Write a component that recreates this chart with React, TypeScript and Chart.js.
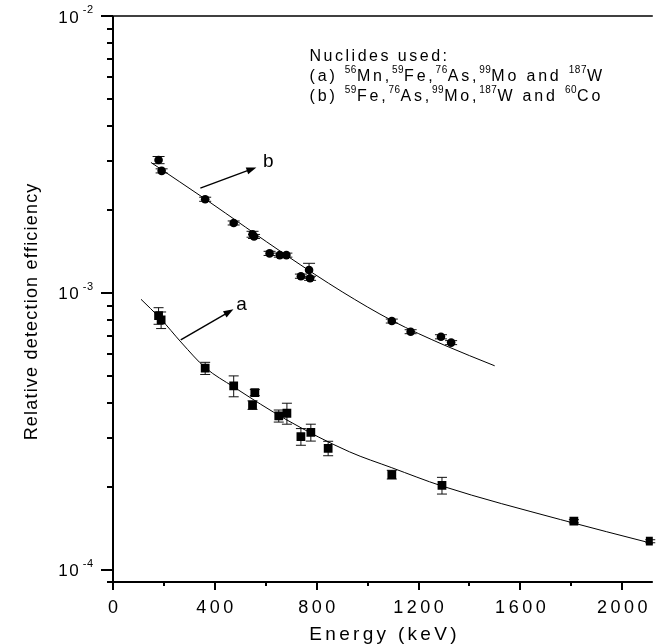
import React, { useEffect, useRef } from "react";
import { Chart, registerables } from "chart.js";
Chart.register(...registerables);

// ---- data ----
const energyA = [179, 189, 362, 474, 548, 557, 651, 683, 738, 777, 845, 1095, 1292, 1810, 2110];
const effA = [8.28e-4, 7.99e-4, 5.35e-4, 4.62e-4, 3.94e-4, 4.37e-4, 3.6e-4, 3.68e-4, 3.03e-4, 3.14e-4, 2.75e-4, 2.21e-4, 2.02e-4, 1.5e-4, 1.27e-4];
const errA = [0.57e-4, 0.55e-4, 0.27e-4, 0.4e-4, 0.14e-4, 0.11e-4, 0.18e-4, 0.32e-4, 0.21e-4, 0.22e-4, 0.165e-4, 0.08e-4, 0.14e-4, 0.02e-4, 0.016e-4];

const energyB = [179, 191, 362, 474, 548, 554, 615, 655, 681, 738, 770, 774, 1095, 1169, 1288, 1328];
const effB = [3.02e-3, 2.76e-3, 2.18e-3, 1.79e-3, 1.63e-3, 1.6e-3, 1.39e-3, 1.37e-3, 1.37e-3, 1.15e-3, 1.21e-3, 1.13e-3, 7.92e-4, 7.25e-4, 6.95e-4, 6.62e-4];
const errB = [0.09e-3, 0.047e-3, 0.037e-3, 0.03e-3, 0.04e-3, 0.027e-3, 0.024e-3, 0.023e-3, 0.023e-3, 0.02e-3, 0.07e-3, 0.019e-3, 0.013e-3, 0.012e-3, 0.012e-3, 0.011e-3];

const fitAx = [110, 185, 270, 362, 474, 683, 929, 1095, 1292, 1758, 2120];
const fitAy = [9.49e-4, 8.11e-4, 6.6e-4, 5.38e-4, 4.58e-4, 3.48e-4, 2.67e-4, 2.34e-4, 2.01e-4, 1.52e-4, 1.245e-4];

const fitBx = [149, 260, 365, 520, 684, 900, 1098, 1300, 1499];
const fitBy = [2.96e-3, 2.527e-3, 2.175e-3, 1.73e-3, 1.361e-3, 1.01e-3, 7.93e-4, 6.49e-4, 5.46e-4];

const xTicks = [0, 400, 800, 1200, 1600, 2000];
const yTickExps = [-4, -3, -2];

const X_MIN = 0;
const X_MAX = 2120;
const Y_MIN = 9.05e-5;
const Y_MAX = 1e-2;

const xTitle = "Energy (keV)";
const yTitle = "Relative detection efficiency";
const noteTitle = "Nuclides used:";
const noteA = [
  { t: "(a) " }, { t: "56", s: true }, { t: "Mn," }, { t: "59", s: true }, { t: "Fe," },
  { t: "76", s: true }, { t: "As," }, { t: "99", s: true }, { t: "Mo and " }, { t: "187", s: true }, { t: "W" },
];
const noteB = [
  { t: "(b) " }, { t: "59", s: true }, { t: "Fe," }, { t: "76", s: true }, { t: "As," },
  { t: "99", s: true }, { t: "Mo," }, { t: "187", s: true }, { t: "W and " }, { t: "60", s: true }, { t: "Co" },
];
// annotation anchors in data coordinates
const noteAnchor = { x: 772, y: 6.88e-3 };
const arrowA = { x1: 266, y1: 6.77e-4, x2: 473, y2: 8.73e-4, lx: 484, ly: 8.68e-4, label: "a" };
const arrowB = { x1: 343, y1: 2.39e-3, x2: 563, y2: 2.84e-3, lx: 589, ly: 2.86e-3, label: "b" };

const FONT = '"Liberation Sans", Arial, Helvetica, sans-serif';

function spacedWidth(ctx: any, text: string, font: string, sp: number) {
  ctx.font = font;
  let w = 0;
  for (const ch of text) w += ctx.measureText(ch).width + sp;
  return w - sp;
}
function drawSpaced(ctx: any, text: string, x: number, y: number, font: string, sp: number) {
  ctx.font = font;
  ctx.textAlign = "left";
  let cx = x;
  for (const ch of text) {
    ctx.fillText(ch, cx, y);
    cx += ctx.measureText(ch).width + sp;
  }
  return cx;
}

function drawArrow(ctx: any, x1: number, y1: number, x2: number, y2: number) {
  const ang = Math.atan2(y2 - y1, x2 - x1);
  const hl = 10, hw = 3.5;
  ctx.beginPath();
  ctx.moveTo(x1, y1);
  ctx.lineTo(x2 - Math.cos(ang) * hl * 0.8, y2 - Math.sin(ang) * hl * 0.8);
  ctx.lineWidth = 1.4;
  ctx.stroke();
  ctx.beginPath();
  ctx.moveTo(x2, y2);
  ctx.lineTo(x2 - Math.cos(ang) * hl + Math.sin(ang) * hw, y2 - Math.sin(ang) * hl - Math.cos(ang) * hw);
  ctx.lineTo(x2 - Math.cos(ang) * hl - Math.sin(ang) * hw, y2 - Math.sin(ang) * hl + Math.cos(ang) * hw);
  ctx.closePath();
  ctx.fill();
}

const originPlugin = {
  id: "originStyle",
  beforeDatasetsDraw(chart: any) {
    const ctx = chart.ctx;
    const xs = chart.scales.x, ys = chart.scales.y;
    ctx.save();
    ctx.strokeStyle = "#111";
    ctx.lineWidth = 1;
    const bars = (ex: number[], ey: number[], ee: number[], cap: number) => {
      for (let i = 0; i < ex.length; i++) {
        const px = xs.getPixelForValue(ex[i]);
        const pt = ys.getPixelForValue(ey[i] + ee[i]);
        const pb = ys.getPixelForValue(ey[i] - ee[i]);
        ctx.beginPath();
        ctx.moveTo(px, pt); ctx.lineTo(px, pb);
        ctx.moveTo(px - cap, pt); ctx.lineTo(px + cap, pt);
        ctx.moveTo(px - cap, pb); ctx.lineTo(px + cap, pb);
        ctx.stroke();
      }
    };
    bars(energyA, effA, errA, 5);
    bars(energyB, effB, errB, 6);
    ctx.restore();
  },
  afterDraw(chart: any) {
    const ctx = chart.ctx;
    const xs = chart.scales.x, ys = chart.scales.y;
    const { left, top, right, bottom } = chart.chartArea;
    ctx.save();
    ctx.strokeStyle = "#000";
    ctx.fillStyle = "#000";
    ctx.lineCap = "butt";
    // axes
    ctx.lineWidth = 2;
    ctx.beginPath();
    ctx.moveTo(left, top); ctx.lineTo(left, bottom + 1);
    ctx.moveTo(left - 6, bottom); ctx.lineTo(right, bottom);
    ctx.stroke();
    ctx.lineWidth = 1.5;
    ctx.beginPath();
    ctx.moveTo(left, top); ctx.lineTo(right, top);
    ctx.stroke();
    // y ticks
    ctx.lineWidth = 2;
    ctx.beginPath();
    for (let e = -5; e <= -2; e++) {
      for (let m = 1; m <= 9; m++) {
        const v = m * Math.pow(10, e);
        if (v < Y_MIN * 0.999 || v > Y_MAX * 1.001) continue;
        const py = Math.round(ys.getPixelForValue(v));
        const len = m === 1 ? 12 : 6;
        ctx.moveTo(left - len, py); ctx.lineTo(left, py);
      }
    }
    // x ticks
    for (let v = X_MIN; v <= X_MAX; v += 200) {
      const px = Math.round(xs.getPixelForValue(v));
      const len = v % 400 === 0 ? 8 : 4;
      ctx.moveTo(px, bottom); ctx.lineTo(px, bottom + len);
    }
    ctx.stroke();
    // y tick labels 10^n
    ctx.textBaseline = "alphabetic";
    const mainF = `17px ${FONT}`, supF = `11px ${FONT}`;
    for (const e of yTickExps) {
      const py = ys.getPixelForValue(Math.pow(10, e));
      const sup = String(e);
      const wm = spacedWidth(ctx, "10", mainF, 1.5);
      const ws = spacedWidth(ctx, sup, supF, 0.5);
      const gap = 4;
      const x0 = left - 20 - (wm + gap + ws);
      drawSpaced(ctx, "10", x0, py + 6.5, mainF, 1.5);
      drawSpaced(ctx, sup, x0 + wm + gap, py - 3, supF, 0.5);
    }
    // x tick labels
    const xf = `18px ${FONT}`;
    for (const v of xTicks) {
      const px = xs.getPixelForValue(v);
      const s = String(v);
      const w = spacedWidth(ctx, s, xf, 3.5);
      drawSpaced(ctx, s, px - w / 2, bottom + 31, xf, 3.5);
    }
    // x title
    const tf = `19px ${FONT}`;
    const tw = spacedWidth(ctx, xTitle, tf, 3.3);
    drawSpaced(ctx, xTitle, (left + right) / 2 - tw / 2, bottom + 58, tf, 3.3);
    // y title
    const yf = `18px ${FONT}`;
    const yw = spacedWidth(ctx, yTitle, yf, 1.2);
    ctx.save();
    ctx.translate(32, (top + bottom) / 2 + 13);
    ctx.rotate(-Math.PI / 2);
    ctx.textBaseline = "middle";
    drawSpaced(ctx, yTitle, -yw / 2, 0, yf, 1.2);
    ctx.restore();
    // arrows
    for (const a of [arrowA, arrowB]) {
      drawArrow(ctx, xs.getPixelForValue(a.x1), ys.getPixelForValue(a.y1), xs.getPixelForValue(a.x2), ys.getPixelForValue(a.y2));
      drawSpaced(ctx, a.label, xs.getPixelForValue(a.lx), ys.getPixelForValue(a.ly), `19px ${FONT}`, 0);
    }
    // annotation
    const nx = xs.getPixelForValue(noteAnchor.x);
    const ny = ys.getPixelForValue(noteAnchor.y);
    const nf = `16px ${FONT}`, sf = `10px ${FONT}`;
    drawSpaced(ctx, noteTitle, nx, ny, nf, 2.5);
    const rich = (segs: any[], y: number) => {
      let cx = nx;
      for (const sg of segs) {
        if (sg.s) cx = drawSpaced(ctx, sg.t, cx, y - 8, sf, 0.5);
        else cx = drawSpaced(ctx, sg.t, cx, y, nf, 2.8);
      }
    };
    rich(noteA, ny + 20);
    rich(noteB, ny + 40);
    ctx.restore();
  },
};

export default function App() {
  const ref = useRef<HTMLCanvasElement>(null);
  useEffect(() => {
    const toPts = (xs: number[], ys: number[]) => xs.map((x, i) => ({ x, y: ys[i] }));
    const chart = new Chart(ref.current as HTMLCanvasElement, {
      type: "scatter",
      data: {
        datasets: [
          {
            label: "fit a",
            data: toPts(fitAx, fitAy),
            showLine: true,
            pointRadius: 0,
            borderColor: "#000",
            borderWidth: 1,
            cubicInterpolationMode: "monotone",
          },
          {
            label: "fit b",
            data: toPts(fitBx, fitBy),
            showLine: true,
            pointRadius: 0,
            borderColor: "#000",
            borderWidth: 1,
            cubicInterpolationMode: "monotone",
          },
          {
            label: "a",
            data: toPts(energyA, effA),
            pointStyle: "rect",
            pointRadius: 6.2,
            backgroundColor: "#000",
            borderWidth: 0,
          },
          {
            label: "b",
            data: toPts(energyB, effB),
            pointStyle: "circle",
            pointRadius: 4.3,
            backgroundColor: "#000",
            borderWidth: 0,
          },
        ],
      } as any,
      options: {
        responsive: false,
        maintainAspectRatio: false,
        devicePixelRatio: 1,
        animation: false,
        layout: { padding: { left: 113, top: 16, right: 0, bottom: 62 } },
        plugins: { legend: { display: false }, tooltip: { enabled: false } },
        scales: {
          x: { type: "linear", min: X_MIN, max: X_MAX, display: false },
          y: { type: "logarithmic", min: Y_MIN, max: Y_MAX, display: false },
        },
      } as any,
      plugins: [originPlugin as any],
    });
    return () => chart.destroy();
  }, []);
  return (
    <div style={{ position: "fixed", left: 0, top: 0, width: 659, height: 644, background: "#fff" }}>
      <canvas ref={ref} width={659} height={644} style={{ width: 659, height: 644, display: "block" }} />
    </div>
  );
}
